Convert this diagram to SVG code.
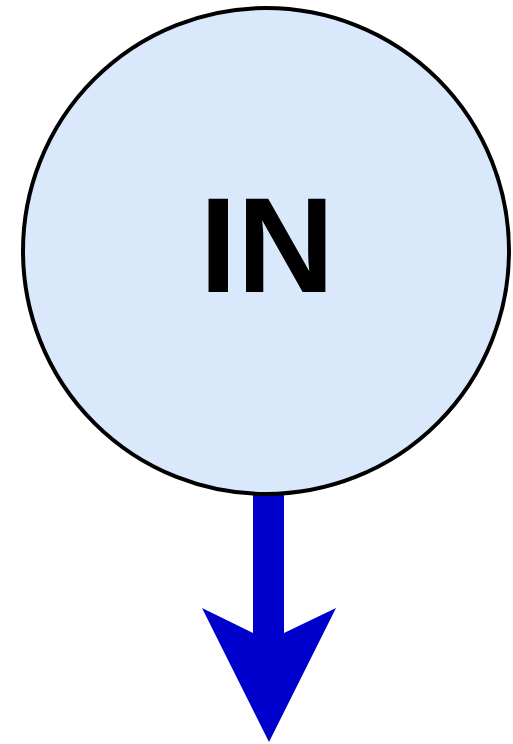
<svg xmlns="http://www.w3.org/2000/svg" width="513" height="744" viewBox="0 0 513 744">
<style>
.node{fill:#dae8fc;stroke:#000;stroke-width:4}
.lbl{font-family:"Liberation Sans",Arial,sans-serif;font-weight:bold;font-size:135px;fill:#000}
.arrow{fill:#0000cc;stroke:none}
</style>
<rect width="513" height="744" fill="#fff"/>
<g id="connectors">
<path class="arrow" d="M253,494 L284,494 L284,633 L336,608 L269,742 L202,608 L253,633 Z"/>
</g>
<g id="node-in">
<circle class="node" cx="266" cy="251" r="243"/>
<text class="lbl" x="267" y="292" text-anchor="middle">IN</text>
</g>
</svg>
